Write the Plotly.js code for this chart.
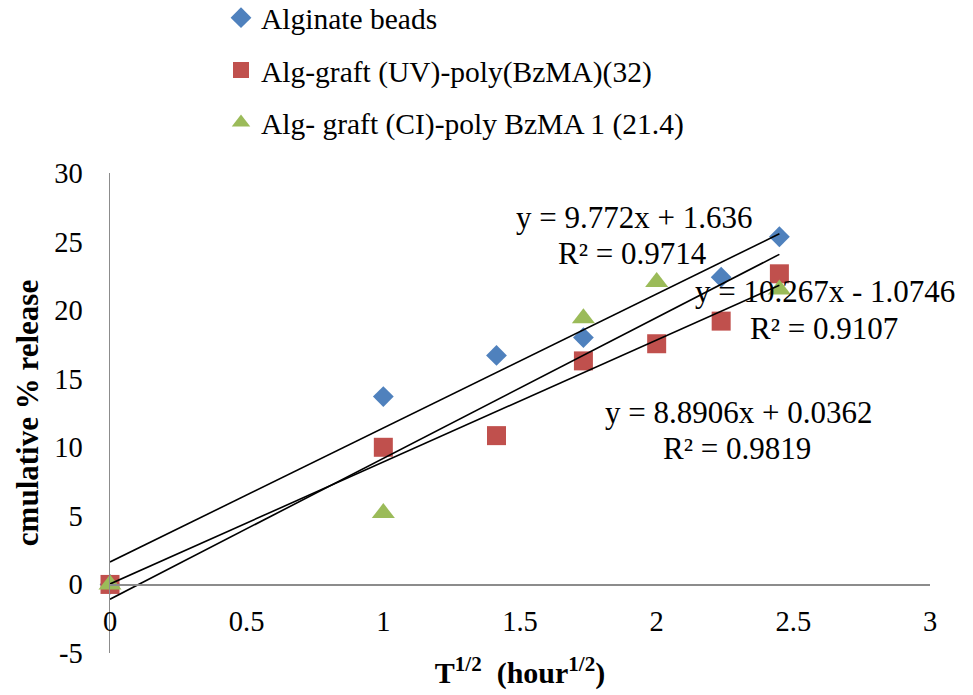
<!DOCTYPE html>
<html>
<head>
<meta charset="utf-8">
<script src="https://cdn.plot.ly/plotly-3.0.1.min.js"></script>
<style>html,body{margin:0;padding:0;background:#fff;}#chart{width:973px;height:695px;}</style>
</head>
<body>
<div id="chart"></div>
<script>
// Data (x = square root of time, hour^1/2)
const seriesNames = ["Alginate beads", "Alg-graft (UV)-poly(BzMA)(32)", "Alg- graft (CI)-poly BzMA 1 (21.4)"];
const xAlg = [0, 1, 1.414, 1.732, 2.236, 2.449];
const yAlg = [0, 13.7, 16.7, 18.0, 22.4, 25.35];
const xUV = [0, 1, 1.414, 1.732, 2, 2.236, 2.449];
const yUV = [0, 10.0, 10.85, 16.3, 17.55, 19.2, 22.65];
const xCI = [0, 1, 1.732, 2, 2.449];
const yCI = [0, 5.2, 19.4, 22.05, 21.5];
// Linear trendlines as printed on the chart
const trendSlopes = [9.772, 8.8906, 10.267];
const trendIntercepts = [1.636, 0.0362, -1.0746];
const trendR2 = ["0.9714", "0.9819", "0.9107"];
const trendXRange = [0, 2.449];
const xTicks = [0, 0.5, 1, 1.5, 2, 2.5, 3];
const yTicks = [-5, 0, 5, 10, 15, 20, 25, 30];

const colors = ["#4F81BD", "#C0504D", "#9BBB59"];
const FONT = '"Liberation Serif", "Times New Roman", serif';

const traces = [
  {x: xAlg, y: yAlg, mode: "markers", name: seriesNames[0], legendgroup: "a", cliponaxis: false,
   marker: {symbol: "diamond", size: 16, color: colors[0]}},
  {x: xUV, y: yUV, mode: "markers", name: seriesNames[1], legendgroup: "b", cliponaxis: false,
   marker: {symbol: "square", size: 19, color: colors[1]}},
  {x: xCI, y: yCI, mode: "markers", name: seriesNames[2], legendgroup: "c", cliponaxis: false,
   marker: {symbol: "triangle-up", size: 20, color: colors[2]}}
];
for (let i = 0; i < trendSlopes.length; i++) {
  traces.push({
    x: trendXRange,
    y: trendXRange.map(v => trendSlopes[i] * v + trendIntercepts[i]),
    mode: "lines", showlegend: false, hoverinfo: "skip", cliponaxis: false,
    line: {color: "#000", width: 1.6}
  });
}

function eqText(i) {
  const b = trendIntercepts[i];
  return "y = " + trendSlopes[i] + "x " + (b < 0 ? "- " + Math.abs(b) : "+ " + b);
}
const eqPos = [ // [x, y] of equation line and R² line in data units
  [[1.917, 26.76], [1.913, 24.14]],
  [[2.298, 12.54], [2.294, 9.92]],
  [[2.616, 21.37], [2.612, 18.67]]
];
const annotations = [];
for (let i = 0; i < 3; i++) {
  annotations.push({x: eqPos[i][0][0], y: eqPos[i][0][1], xref: "x", yref: "y", text: eqText(i),
    showarrow: false, xanchor: "center", yanchor: "middle", font: {family: FONT, size: 31, color: "#000"}});
  annotations.push({x: eqPos[i][1][0], y: eqPos[i][1][1], xref: "x", yref: "y", text: "R² = " + trendR2[i],
    showarrow: false, xanchor: "center", yanchor: "middle", font: {family: FONT, size: 31, color: "#000"}});
}

const yMin = -5, yMax = 30;
const layout = {
  width: 973, height: 695,
  margin: {l: 110, r: 43, t: 173, b: 42, autoexpand: false},
  paper_bgcolor: "#fff", plot_bgcolor: "#fff",
  font: {family: FONT, size: 28, color: "#000"},
  showlegend: true,
  legend: {x: (221 - 110) / 820, y: (653 + 8) / 480, xanchor: "left", yanchor: "top",
    font: {family: FONT, size: 29.5, color: "#000"}, traceorder: "grouped", tracegroupgap: 11,
    itemwidth: 30, bgcolor: "rgba(0,0,0,0)"},
  xaxis: {
    range: [0, 3], tickvals: xTicks, ticktext: xTicks.map(String),
    showgrid: false, zeroline: false, showline: true, linecolor: "#8c8c8c", linewidth: 1.5,
    anchor: "free", position: (0 - yMin) / (yMax - yMin),
    ticks: "", ticklabelstandoff: 11,
    tickfont: {family: FONT, size: 28.5, color: "#000"},
    title: {text: "<b>T<sup>1/2</sup>  (hour<sup>1/2</sup>)</b>", font: {family: FONT, size: 30, color: "#000"}, standoff: 26}
  },
  yaxis: {
    range: [yMin, yMax], tickvals: yTicks, ticktext: yTicks.map(String),
    showgrid: false, zeroline: false, showline: true, linecolor: "#8c8c8c", linewidth: 1.5,
    ticks: "", ticklabelstandoff: 20,
    tickfont: {family: FONT, size: 28.5, color: "#000"},
    title: {text: "<b>cmulative % release</b>", font: {family: FONT, size: 31, color: "#000"}, standoff: 6}
  },
  annotations: annotations
};
Plotly.newPlot("chart", traces, layout, {displayModeBar: false, staticPlot: true});
</script>
</body>
</html>
